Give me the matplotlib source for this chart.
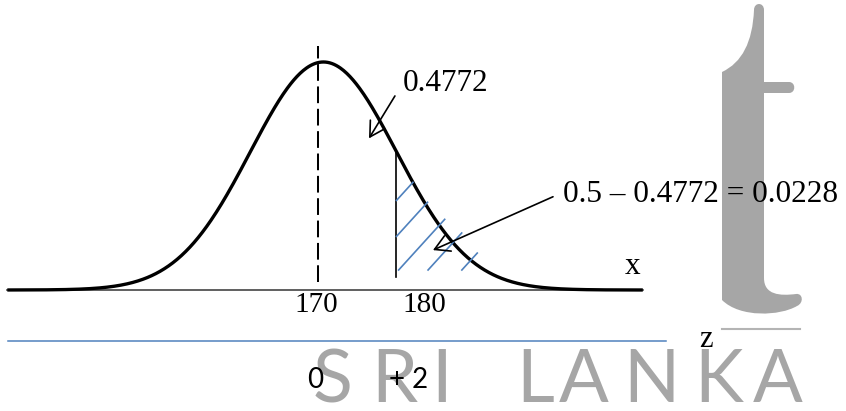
import numpy as np
import matplotlib.pyplot as plt
from matplotlib.path import Path
from matplotlib.patches import PathPatch

# values
mean_x = 170
curve_center = 170.5      # peak of the drawn bell
curve_sd = 6.7            # spread of the drawn bell (in x units)
curve_from, curve_to = 141.5, 199.8
cut_x = 177.2             # left edge of the shaded tail
tick_values = [170, 180]
tick_labels = ['170', '180']
z_positions = [169.7, 178.3]
z_labels = ['0', '+ 2']
area_label = '0.4772'
tail_label = '0.5 \u2013 0.4772 = 0.0228'
hatch_bottoms = [171.4, 174.4, 177.4, 180.1, 183.2]
hatch_overshoot = [0.0, 0.022, 0.057, 0.083, 0.053]
watermark_letters = list('SRILANKA')
watermark_centers = [333, 394, 442, 535, 584, 651, 719, 778]

BLUE = '#4f81bd'
GREY = '#a6a6a6'
SERIF = 'Liberation Serif'


def bell(x):
    return np.exp(-0.5 * ((x - curve_center) / curve_sd) ** 2)


fig = plt.figure(figsize=(8.46, 4.11), dpi=100)

# watermark layer, pixel coordinates
wm = fig.add_axes([0, 0, 1, 1], zorder=0)
wm.set_xlim(0, 846)
wm.set_ylim(411, 0)
wm.axis('off')
verts = [(722, 72), (752, 58), (754, 10),
         (754, 2), (764, 2), (764, 10),
         (764, 82), (789, 82),
         (796, 82), (796, 93), (789, 93),
         (764, 93), (764, 278),
         (764, 295), (780, 296), (796, 294),
         (803, 293), (804, 303), (797, 306),
         (780, 316), (740, 318), (722, 300),
         (722, 72)]
codes = [Path.MOVETO, Path.CURVE3, Path.CURVE3,
         Path.CURVE4, Path.CURVE4, Path.CURVE4,
         Path.LINETO, Path.LINETO,
         Path.CURVE4, Path.CURVE4, Path.CURVE4,
         Path.LINETO, Path.LINETO,
         Path.CURVE4, Path.CURVE4, Path.CURVE4,
         Path.CURVE4, Path.CURVE4, Path.CURVE4,
         Path.CURVE4, Path.CURVE4, Path.CURVE4,
         Path.CLOSEPOLY]
wm.add_patch(PathPatch(Path(verts, codes), facecolor=GREY, edgecolor='none'))
wm.plot([722, 800], [329, 329], color='#b4b4b4', lw=1.5)
for ch, cx in zip(watermark_letters, watermark_centers):
    wm.text(cx, 402, ch, ha='center', va='baseline', fontsize=53,
            family='Lato', color=GREY)

# diagram layer
ax = fig.add_axes([0, 0, 1, 1], zorder=1)
ax.set_xlim(140.83, 218.44)
ax.set_ylim(-0.5307, 1.2719)
ax.axis('off')

xs = np.linspace(curve_from, curve_to, 600)
ax.plot([curve_from, curve_to], [0, 0], color='#444444', lw=1.2)
ax.plot(xs, bell(xs), color='black', lw=2.4, solid_capstyle='butt')
ax.plot([mean_x, mean_x], [0.036, 1.07], color='black', lw=1.45,
        linestyle=(0, (8.3, 2.8)))
ax.plot([cut_x, cut_x], [0.057, bell(cut_x)], color='black', lw=1.2)

# hatching of the upper tail
slope = 1.1 * 10.9 / 228
bottom = 0.0877
for xb, ov in zip(hatch_bottoms, hatch_overshoot):
    x0 = max(cut_x, xb)
    hx = np.linspace(x0, curve_to, 2000)
    hy = bottom + slope * (hx - xb)
    i = np.argmax(hy >= bell(hx) + ov)
    ax.plot([x0, hx[i]], [hy[0], hy[i]], color=BLUE, lw=1.2)

# labels and arrows
arrow = dict(arrowstyle='->,head_length=1.05,head_width=0.6', lw=1.2,
             color='black', mutation_scale=10, shrinkA=0, shrinkB=0)
ax.text(177.8, 0.873, area_label, fontsize=22.5, family=SERIF, va='baseline')
ax.annotate('', xy=(174.68, 0.665), xytext=(177.06, 0.851), arrowprops=arrow)
ax.text(192.48, 0.387, tail_label, fontsize=22.5, family=SERIF, va='baseline')
ax.annotate('', xy=(180.55, 0.175), xytext=(191.56, 0.409), arrowprops=arrow)
ax.text(198.9, 0.101, 'x', fontsize=22.5, family=SERIF, ha='center', va='center')

for v, lab in zip(tick_values, tick_labels):
    ax.text(v - 0.2, -0.095, lab, fontsize=21, family=SERIF, ha='center',
            va='baseline')

# z scale
ax.plot([141.56, 201.93], [-0.2237, -0.2237], color=BLUE, lw=1.1)
ax.text(205.6, -0.219, 'z', fontsize=22, family=SERIF, ha='center', va='center')
for v, lab in zip(z_positions, z_labels):
    ax.text(v, -0.43, lab, fontsize=20, family='Lato', ha='center', va='baseline')

fig.savefig('out.png', dpi=100)
